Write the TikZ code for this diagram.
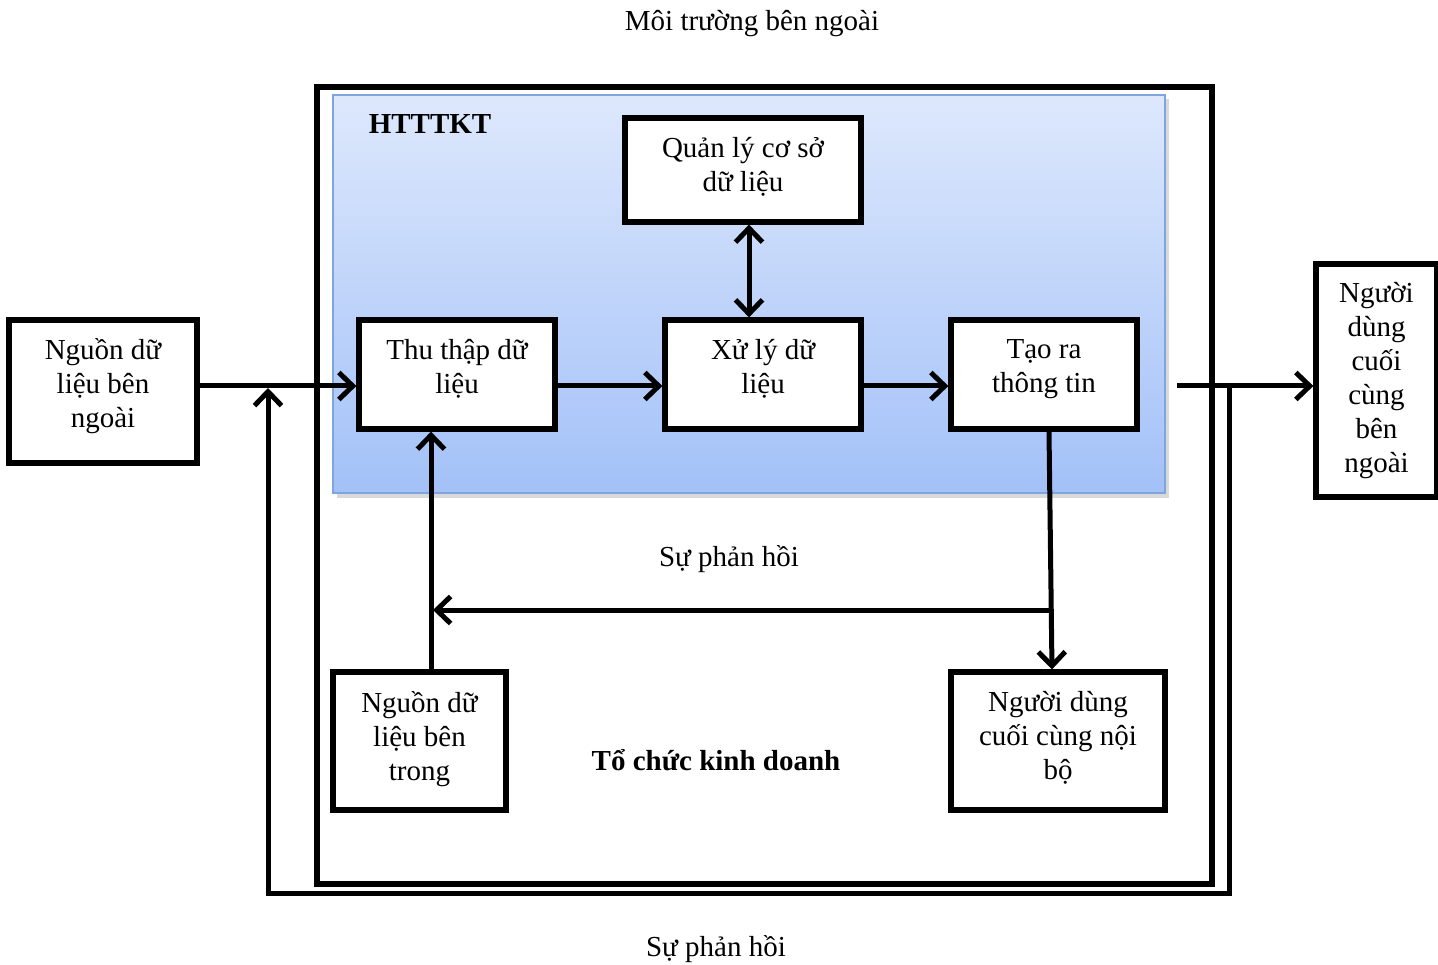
\documentclass[tikz,border=0pt]{standalone}
\usepackage{fontspec}
\setmainfont{Liberation Serif}
\usetikzlibrary{arrows.meta}

\definecolor{panelTop}{HTML}{DDE8FC}
\definecolor{panelBot}{HTML}{A3C1F8}
\definecolor{panelEdge}{HTML}{7FA5DE}

\tikzset{
  txt/.style={font=\fontsize{29}{34}\selectfont, align=center, inner sep=0pt},
  btxt/.style={txt, font=\fontsize{29}{34}\selectfont\bfseries},
  box/.style={draw, line width=5.2pt, fill=white, inner sep=0pt},
  barb/.tip={Straight Barb[length=14pt,width=27pt]},
  flow/.style={line width=5pt, -{barb}},
  twoway/.style={line width=5pt, {barb}-{barb}},
}

\begin{document}
\begin{tikzpicture}[x=1pt,y=-1pt]
\useasboundingbox (0,0) rectangle (1438,965);

% business organisation frame
\draw[line width=5.2pt] (317,87) rectangle (1212,884);

% information system panel with a soft shadow
\fill[gray, opacity=0.3] (337,99) rectangle (1169,498);
\shade[top color=panelTop, bottom color=panelBot, draw=panelEdge, line width=1.2pt]
  (333,95) rectangle (1165,493);
\node[btxt] (sys) at (430,124) {HTTTKT};

% frames of the process boxes
\node[box, minimum width=236, minimum height=104] (qly)  at (743,170)    {};
\node[box, minimum width=196, minimum height=109] (thu)  at (457,374.5)  {};
\node[box, minimum width=196, minimum height=109] (xuly) at (763,374.5)  {};
\node[box, minimum width=186, minimum height=109] (tao)  at (1044,374.5) {};

% frames of sources and users
\node[box, minimum width=188, minimum height=143] (ext)    at (103,391.5)   {};
\node[box, minimum width=121, minimum height=233] (uext)   at (1376.5,380.5){};
\node[box, minimum width=173, minimum height=138] (intsrc) at (419.5,741)   {};
\node[box, minimum width=214, minimum height=138] (intusr) at (1058,741)    {};

% box texts
\node[txt] (qly-t)    at ([yshift=3pt]qly.center)    {Quản lý cơ sở\\dữ liệu};
\node[txt] (thu-t)    at ([yshift=6pt]thu.center)    {Thu thập dữ\\liệu};
\node[txt] (xuly-t)   at ([yshift=6pt]xuly.center)   {Xử lý dữ\\liệu};
\node[txt] (tao-t)    at ([yshift=5pt]tao.center)    {Tạo ra\\thông tin};
\node[txt] (ext-t)    at ([yshift=5pt]ext.center)    {Nguồn dữ\\liệu bên\\ngoài};
\node[txt] (uext-t)   at (uext.center)               {Người\\dùng\\cuối\\cùng\\bên\\ngoài};
\node[txt] (intsrc-t) at ([yshift=2pt]intsrc.center) {Nguồn dữ\\liệu bên\\trong};
\node[txt] (intusr-t) at ([yshift=3pt]intusr.center) {Người dùng\\cuối cùng nội\\bộ};

% free labels
\node[txt]  (env) at (752,24)  {Môi trường bên ngoài};
\node[txt]  (fb1) at (729,559) {Sự phản hồi};
\node[txt]  (fb2) at (716,949) {Sự phản hồi};
\node[btxt] (org) at (716,760) {Tổ chức kinh doanh};

% helper coordinates
\coordinate (row)   at (0,386);
\coordinate (outL)  at (1177,386);
\coordinate (tapR)  at (1229,386);
\coordinate (fbR)   at (1229,893);
\coordinate (fbL)   at (268,893);
\coordinate (fbTip) at (268,388);
\coordinate (dbCol) at (749,0);
\coordinate (inCol) at (431,0);
\coordinate (dnTop) at (1049,0);
\coordinate (dnBot) at (1052,0);
\coordinate (brR)   at (1051,610);
\coordinate (brL)   at (433,610);

% main flow
\draw[flow] (ext.east |- row) -- (thu.west |- row);
\draw[flow] (thu.east |- row) -- (xuly.west |- row);
\draw[flow] (xuly.east |- row) -- (tao.west |- row);
\draw[twoway] (qly.south -| dbCol) -- (xuly.north -| dbCol);
\draw[flow] (outL) -- (uext.west |- row);

% internal feedback
\draw[flow] (tao.south -| dnTop) -- (intusr.north -| dnBot);
\draw[flow] (brR) -- (brL);
\draw[flow] (intsrc.north -| inCol) -- (thu.south -| inCol);

% external feedback loop
\draw[flow, line join=miter] (tapR) -- (fbR) -- (fbL) -- (fbTip);
\end{tikzpicture}
\end{document}
